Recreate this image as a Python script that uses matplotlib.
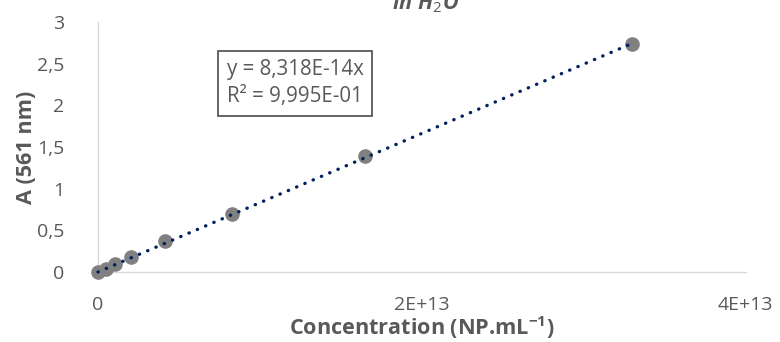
import matplotlib
matplotlib.use("Agg")
import matplotlib.pyplot as plt
import numpy as np

# calibration data
conc = np.array([0.0, 5.16e11, 1.03e12, 2.06e12, 4.13e12, 8.25e12, 1.65e13, 3.30e13])
absorb = np.array([0.0, 0.04, 0.09, 0.18, 0.37, 0.69, 1.39, 2.73])

y_ticks = [0, 0.5, 1, 1.5, 2, 2.5, 3]
y_labels = ["0", "0,5", "1", "1,5", "2", "2,5", "3"]
x_ticks = [0, 2e13, 4e13]
x_labels = ["0", "2E+13", "4E+13"]

plt.rcParams['font.family'] = ['Open Sans', 'DejaVu Sans']
plt.rcParams['mathtext.fontset'] = 'custom'
plt.rcParams['mathtext.rm'] = 'Open Sans'
plt.rcParams['mathtext.it'] = 'Open Sans:italic:bold'
plt.rcParams['mathtext.bf'] = 'Open Sans:bold'
txt = '#595959'

fig = plt.figure(figsize=(7.8, 3.42), dpi=100)
ax = fig.add_axes([0.1256, 0.2047, 0.8304, 0.731])

ax.plot(conc, absorb, 'o', color='#808080', markersize=9.5, zorder=3, clip_on=False)

# linear trend through origin
slope = np.sum(conc * absorb) / np.sum(conc * conc)
xs = np.array([0, conc.max()])
ax.plot(xs, slope * xs, linestyle=(0, (0.1, 2.6)), color='#002060', linewidth=2.4,
        dash_capstyle='round', zorder=4, clip_on=False)

ax.set_xlim(0, 4e13)
ax.set_ylim(0, 3)
ax.set_xticks(x_ticks)
ax.set_xticklabels(x_labels)
ax.set_yticks(y_ticks)
ax.set_yticklabels(y_labels)
ax.tick_params(length=0, labelsize=14, colors=txt)
ax.tick_params(axis='x', pad=17)
ax.tick_params(axis='y', pad=24)

for s in ['top', 'right']:
    ax.spines[s].set_visible(False)
for s in ['left', 'bottom']:
    ax.spines[s].set_color('#d9d9d9')
    ax.spines[s].set_linewidth(1)

ax.set_xlabel("Concentration (NP.mL$^{\\mathbf{-1}}$)", fontsize=15.6, fontweight='bold',
              color=txt, labelpad=0)
ax.set_ylabel("A (561 nm)", fontsize=15.6, fontweight='bold', color=txt)
ax.yaxis.set_label_coords(-0.094, 0.5)

ax.text(0.199, 0.85, "y = 8,318E-14x\nR² = 9,995E-01", transform=ax.transAxes,
        fontsize=14.8, color=txt, va='top', ha='left', linespacing=1.35,
        bbox=dict(boxstyle='square,pad=0.42', fc='white', ec='#595959', lw=1.3))

fig.text(0.546, 1 - 9 / 342, "$\\mathit{in\\ H_2O}$", fontsize=15.5,
         color=txt, ha='center', va='baseline')

fig.savefig("out.png", dpi=100)
